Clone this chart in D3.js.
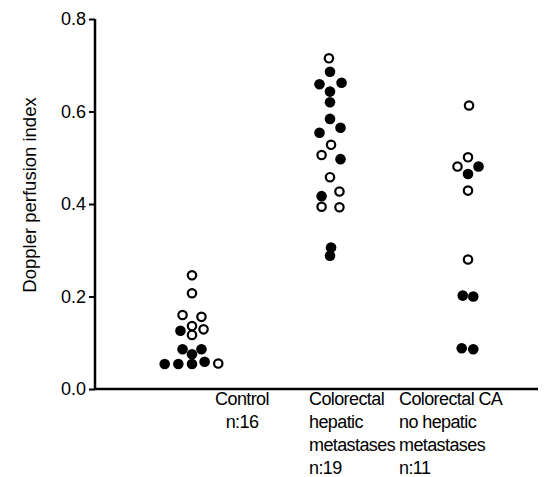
<!DOCTYPE html>
<html lang="en">
<head>
    <meta charset="UTF-8">
    <title>Doppler perfusion index</title>
    <script src="https://cdn.jsdelivr.net/npm/d3@7"></script>
    <style>
        body { margin: 0; background: #fff; }
        text { font-family: "Liberation Sans", Arial, sans-serif; fill: #000; }
    </style>
</head>
<body>
    <script>
        // groups along the x axis
        var categories = ["Control", "Colorectal hepatic metastases", "Colorectal CA no hepatic metastases"]
        var categoryLines = [["Control", "n:16"], ["Colorectal", "hepatic", "metastases", "n:19"], ["Colorectal CA", "no hepatic", "metastases", "n:11"]]
        var yTicks = [0, 0.2, 0.4, 0.6, 0.8]

        // values, filled = solid dot, jitter = sideways shift in dot widths
        var controlValues = [0.246, 0.207, 0.160, 0.156, 0.136, 0.129, 0.126, 0.117, 0.086, 0.086, 0.075, 0.054, 0.054, 0.054, 0.059, 0.055]
        var controlFilled = [0, 0, 0, 0, 0, 0, 1, 0, 1, 1, 1, 1, 1, 1, 1, 0]
        var controlJitter = [0, 0, -0.9, 0.9, 0, 1.1, -1.1, 0, -0.9, 0.9, 0, -2.6, -1.3, 0, 1.2, 2.5]

        var metsValues = [0.715, 0.686, 0.659, 0.662, 0.643, 0.620, 0.584, 0.565, 0.554, 0.528, 0.506, 0.497, 0.458, 0.427, 0.417, 0.394, 0.393, 0.306, 0.288]
        var metsFilled = [0, 1, 1, 1, 1, 1, 1, 1, 1, 0, 0, 1, 0, 0, 1, 0, 0, 1, 1]
        var metsJitter = [-0.1, 0, -1.0, 1.1, 0, 0, 0, 1.0, -1.0, 0.1, -0.8, 1.0, 0, 0.9, -0.8, -0.8, 0.9, 0.1, 0]

        var noMetsValues = [0.613, 0.501, 0.481, 0.481, 0.465, 0.429, 0.280, 0.202, 0.200, 0.088, 0.086]
        var noMetsFilled = [0, 0, 0, 1, 1, 0, 0, 1, 1, 1, 1]
        var noMetsJitter = [0.1, 0, -1.0, 1.0, 0, 0, 0, -0.5, 0.5, -0.6, 0.5]

        var groups = [
            {values: controlValues, filled: controlFilled, jitter: controlJitter},
            {values: metsValues, filled: metsFilled, jitter: metsJitter},
            {values: noMetsValues, filled: noMetsFilled, jitter: noMetsJitter}
        ]

        var width = 556
        var height = 477
        var dotW = 10.5

        var svg = d3.select('body').append('svg')
            .attr('width', width)
            .attr('height', height)

        var x = d3.scaleBand()
            .domain(categories)
            .range([123, 537])

        var y = d3.scaleLinear()
            .domain([0, 0.8])
            .range([389, 19])

        // y axis
        var yAxis = d3.axisLeft(y)
            .tickValues(yTicks)
            .tickFormat(d3.format('.1f'))
            .tickSize(6)
            .tickPadding(3)
        var gy = svg.append('g')
            .attr('transform', 'translate(95,0)')
            .call(yAxis)
        gy.select('.domain').remove()
        gy.selectAll('.tick line').attr('stroke', '#000').attr('stroke-width', 2)
        gy.selectAll('.tick text').style('font-size', '18px')
        svg.append('line')
            .attr('x1', 95).attr('x2', 95)
            .attr('y1', y(0.8)).attr('y2', y(0) + 1)
            .attr('stroke', '#000').attr('stroke-width', 2.5)

        // x axis line
        svg.append('line')
            .attr('x1', 94).attr('x2', 538)
            .attr('y1', y(0)).attr('y2', y(0))
            .attr('stroke', '#000').attr('stroke-width', 2.5)

        svg.append('text')
            .attr('transform', `translate(36,195) rotate(-90)`)
            .attr('text-anchor', 'middle')
            .style('font-size', '18.5px')
            .text('Doppler perfusion index')

        // category labels
        var labelShift = [50, -21, -69]
        var labelAnchor = ['middle', 'start', 'start']
        categories.forEach((c, i) => {
            var t = svg.append('text')
                .attr('text-anchor', labelAnchor[i])
                .style('font-size', '18px')
                .style('letter-spacing', '-0.6px')
            categoryLines[i].forEach((line, k) => {
                t.append('tspan')
                    .attr('x', x(c) + x.bandwidth() / 2 + labelShift[i])
                    .attr('y', 405 + k * 23)
                    .text(line)
            })
        })

        // dots
        var flat = groups.flatMap((g, i) => g.values.map((v, k) => ({
            cat: categories[i], value: v, filled: g.filled[k] === 1, jitter: g.jitter[k]
        })))
        svg.append('g')
            .selectAll('circle')
            .data(flat)
            .enter().append('circle')
            .attr('cx', d => x(d.cat) + x.bandwidth() / 2 + d.jitter * dotW)
            .attr('cy', d => y(d.value))
            .attr('r', d => d.filled ? 5.3 : 4.2)
            .attr('fill', d => d.filled ? '#000' : '#fff')
            .attr('stroke', '#000')
            .attr('stroke-width', d => d.filled ? 0 : 2.2)
    </script>
</body>
</html>
